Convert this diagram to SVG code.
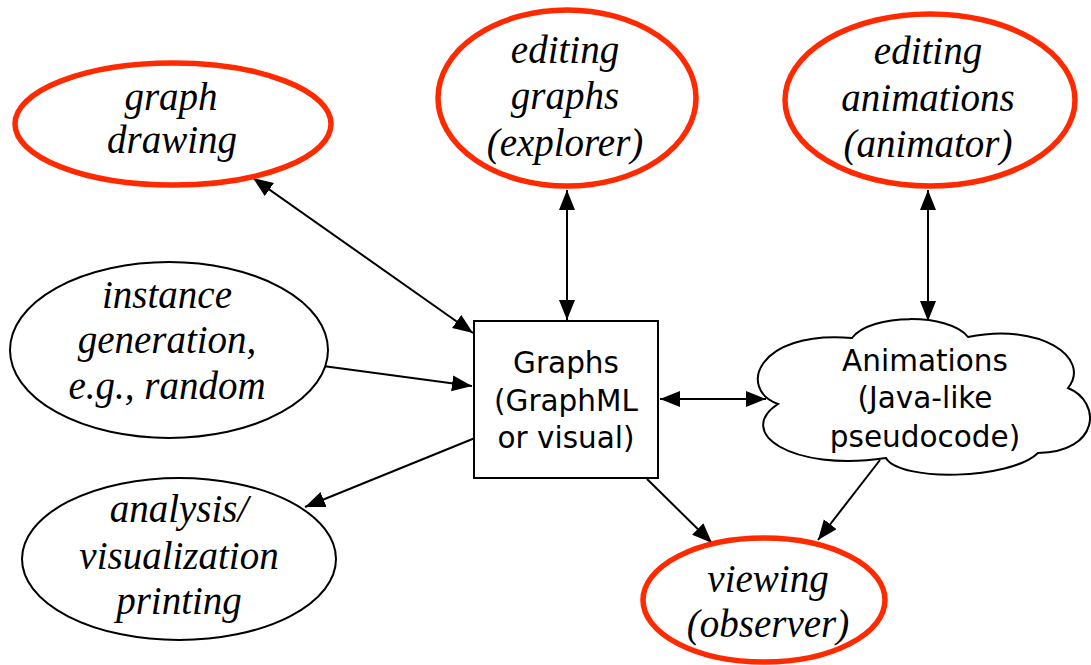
<svg xmlns="http://www.w3.org/2000/svg" width="1091" height="665" viewBox="0 0 1091 665">
<style>
.red{fill:#fff;stroke:#ff2a00;stroke-width:5.5}
.blk{fill:#fff;stroke:#000;stroke-width:2}
.it{font-family:"Liberation Serif","Times New Roman",serif;font-style:italic;font-size:39px;fill:#000;text-anchor:middle}
.sans{font-family:"DejaVu Sans","Verdana",sans-serif;font-size:29.5px;fill:#000;text-anchor:middle}
.cn line{stroke:#000;stroke-width:2}
</style>
<defs>
<marker id="ah" markerUnits="userSpaceOnUse" markerWidth="22" markerHeight="18" refX="20" refY="8" orient="auto-start-reverse">
<path d="M0,0 L20,8 L0,16 z" fill="#000"/>
</marker>
</defs>
<rect width="1091" height="665" fill="#fff"/>
<g class="cn">
<line x1="253" y1="178" x2="473" y2="333" marker-start="url(#ah)" marker-end="url(#ah)"/>
<line x1="567" y1="190" x2="567" y2="320" marker-start="url(#ah)" marker-end="url(#ah)"/>
<line x1="928" y1="190" x2="928" y2="321" marker-start="url(#ah)" marker-end="url(#ah)"/>
<line x1="323" y1="366" x2="472" y2="386" marker-end="url(#ah)"/>
<line x1="475" y1="438" x2="305" y2="507" marker-end="url(#ah)"/>
<line x1="660" y1="399" x2="766" y2="399" marker-start="url(#ah)" marker-end="url(#ah)"/>
<line x1="647" y1="479" x2="712" y2="543" marker-end="url(#ah)"/>
<line x1="880" y1="460" x2="818" y2="540" marker-end="url(#ah)"/>
</g>
<g id="graph-drawing">
<ellipse class="red" cx="173" cy="124" rx="158" ry="61"/>
<text class="it" x="171" y="110">graph</text>
<text class="it" x="172" y="153">drawing</text>
</g>
<g id="editing-graphs">
<ellipse class="red" cx="567" cy="98" rx="129" ry="88"/>
<text class="it" x="565" y="63">editing</text>
<text class="it" x="565" y="109">graphs</text>
<text class="it" x="565" y="156">(explorer)</text>
</g>
<g id="editing-animations">
<ellipse class="red" cx="930" cy="100" rx="145" ry="86"/>
<text class="it" x="928" y="64">editing</text>
<text class="it" x="928" y="111">animations</text>
<text class="it" x="928" y="157">(animator)</text>
</g>
<g id="instance-generation">
<ellipse class="blk" cx="169" cy="350" rx="159" ry="88"/>
<text class="it" x="167" y="308">instance</text>
<text class="it" x="167" y="353">generation,</text>
<text class="it" x="167" y="399">e.g., random</text>
</g>
<g id="analysis">
<ellipse class="blk" cx="179" cy="559" rx="157" ry="81"/>
<text class="it" x="179" y="522">analysis/</text>
<text class="it" x="179" y="569">visualization</text>
<text class="it" x="179" y="614">printing</text>
</g>
<g id="viewing">
<ellipse class="red" cx="764" cy="600" rx="121" ry="62"/>
<text class="it" x="768" y="592">viewing</text>
<text class="it" x="768" y="637">(observer)</text>
</g>
<g id="graphs">
<rect class="blk" x="474" y="321" width="184" height="157"/>
<text class="sans" x="566" y="373">Graphs</text>
<text class="sans" x="566" y="411">(GraphML</text>
<text class="sans" x="566" y="448">or visual)</text>
</g>
<g id="animations">
<path class="blk" d="M778 404 C738 390 755 330 852 338 C870 313 950 313 968 337 C1040 322 1092 358 1068 388 C1102 402 1100 452 1038 453 C1010 480 900 482 886 458 C790 472 735 432 778 404 Z"/>
<text class="sans" x="925" y="371">Animations</text>
<text class="sans" x="925" y="408">(Java-like</text>
<text class="sans" x="925" y="447">pseudocode)</text>
</g>
</svg>
